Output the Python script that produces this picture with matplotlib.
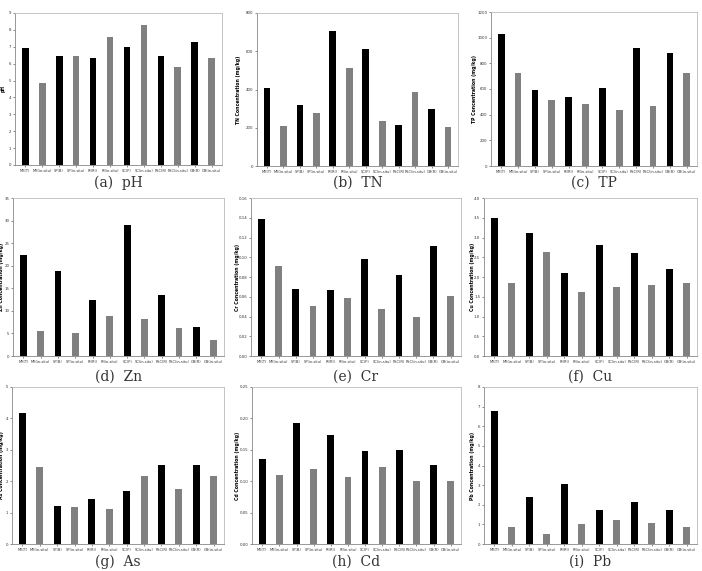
import matplotlib
matplotlib.use("Agg")
import matplotlib.pyplot as plt
import numpy as np

# Sites (T/B/R/P = treated, in-situ = reference)
sites = ["MK(T)", "MK(in-situ)", "SP(B)", "SP(in-situ)", "RI(RI)", "RI(in-situ)",
         "SC(P)", "SC(in-situ)", "PSC(R)", "PSC(in-situ)", "GB(R)", "GB(in-situ)"]

ph = [6.95, 4.85, 6.45, 6.45, 6.35, 7.55, 6.98, 8.26, 6.43, 5.83, 7.27, 6.36]
tn = [409, 207, 319, 279, 704, 514, 613, 235, 216, 385, 298, 206]
tp = [1026, 722, 592, 512, 540, 481, 608, 439, 922, 465, 880, 722]
zn = [22.3, 5.5, 18.9, 5.0, 12.4, 8.8, 29.1, 8.2, 13.6, 6.1, 6.4, 3.5]
cr = [0.139, 0.091, 0.068, 0.0505, 0.067, 0.059, 0.0986, 0.0478, 0.0817, 0.039, 0.1115, 0.0603]
cu = [3.49, 1.86, 3.11, 2.64, 2.09, 1.61, 2.82, 1.75, 2.62, 1.80, 2.19, 1.86]
as_ = [4.17, 2.44, 1.22, 1.17, 1.43, 1.11, 1.68, 2.18, 2.53, 1.76, 2.53, 2.18]
cd = [0.136, 0.110, 0.193, 0.119, 0.174, 0.106, 0.148, 0.123, 0.149, 0.100, 0.126, 0.100]
pb = [6.76, 0.85, 2.41, 0.51, 3.08, 1.02, 1.73, 1.20, 2.15, 1.05, 1.75, 0.88]

W, H = 702, 571
fig = plt.figure(figsize=(W / 100, H / 100), dpi=100)
fig.patch.set_facecolor("white")


def panel(rect, vals, yticks, fmt, ylabel, label_x, caption, cap_y):
    x0, y0, x1, y1 = rect
    ax = fig.add_axes([x0 / W, 1 - y1 / H, (x1 - x0) / W, (y1 - y0) / H])
    pos = np.arange(len(vals))
    colors = ["black" if i % 2 == 0 else "#808080" for i in range(len(vals))]
    ax.bar(pos, vals, width=0.4, color=colors)
    ax.set_xlim(-0.6, len(vals) - 0.4)
    ax.set_ylim(yticks[0], yticks[-1])
    ax.set_yticks(yticks)
    ax.set_yticklabels([fmt.format(t) for t in yticks], fontsize=2.8)
    ax.set_xticks(pos)
    ax.set_xticklabels(sites, fontsize=2.6)
    ax.tick_params(length=1.5, width=0.4, pad=1.2, colors="#333333")
    for s in ["top", "right"]:
        ax.spines[s].set_color("#bbbbbb")
        ax.spines[s].set_linewidth(0.6)
    for s in ["left", "bottom"]:
        ax.spines[s].set_color("#888888")
        ax.spines[s].set_linewidth(0.6)
    ax.set_ylabel(ylabel, fontsize=3.3, fontweight="bold")
    ax.yaxis.set_label_coords((label_x - x0) / (x1 - x0), 0.5)
    fig.text((x0 + x1) / 2 / W, 1 - cap_y / H, caption, ha="center", va="center",
             fontsize=10, family="DejaVu Serif", color="#333333")
    return ax


panel((15, 13, 222, 165), ph, np.arange(0, 10, 1), "{:.0f}", "pH", 6,
      "(a)  pH", 183)
panel((257, 13, 458, 166), tn, np.arange(0, 801, 200), "{:.0f}",
      "TN Concentration (mg/kg)", 241, "(b)  TN", 183)
panel((491, 12, 697, 166), tp, np.arange(0, 1201, 200), "{:.0f}",
      "TP Concentration (mg/kg)", 477, "(c)  TP", 183)

panel((13, 198, 224, 356), zn, np.arange(0, 36, 5), "{:.0f}",
      "Zn Concentration (mg/kg)", 4, "(d)  Zn", 377)
panel((251, 198, 461, 356), cr, np.linspace(0, 0.16, 9), "{:.2f}",
      "Cr Concentration (mg/kg)", 240, "(e)  Cr", 377)
panel((484, 198, 697, 356), cu, np.linspace(0, 4.0, 9), "{:.1f}",
      "Cu Concentration (mg/kg)", 475, "(f)  Cu", 377)

panel((12, 387, 224, 544), as_, np.arange(0, 6, 1), "{:.0f}",
      "As Concentration (mg/kg)", 4, "(g)  As", 562)
panel((252, 387, 461, 544), cd, np.linspace(0, 0.25, 6), "{:.2f}",
      "Cd Concentration (mg/kg)", 240, "(h)  Cd", 562)
panel((484, 387, 697, 544), pb, np.arange(0, 9, 1), "{:.0f}",
      "Pb Concentration (mg/kg)", 475, "(i)  Pb", 562)

fig.savefig("out.png", dpi=100, facecolor="white")
